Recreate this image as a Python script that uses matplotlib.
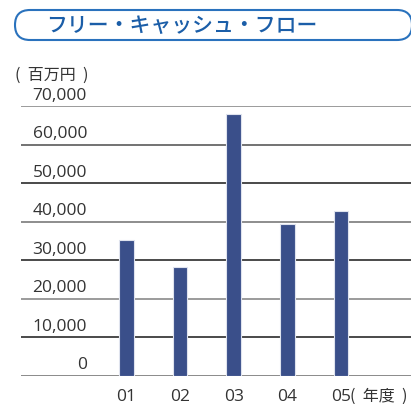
import matplotlib
matplotlib.use("Agg")
import matplotlib.pyplot as plt
from matplotlib.patches import FancyBboxPatch
from matplotlib.transforms import Affine2D

years = ["01", "02", "03", "04", "05"]
values = [35250, 28230, 67900, 39300, 42800]
yticks = [0, 10000, 20000, 30000, 40000, 50000, 60000, 70000]
ytick_labels = ["0", "10,000", "20,000", "30,000", "40,000", "50,000", "60,000", "70,000"]
title = "フリー・キャッシュ・フロー"
unit_label = "(  百万円  )"
year_label = "(  年度  )"

W, H = 411, 404
fig = plt.figure(figsize=(W / 100, H / 100), dpi=100)
fig.patch.set_facecolor("white")

def fx(px):
    return px / W

def fy(py):
    return 1 - py / H

ax_left, ax_right, ax_top, ax_bottom = 21, 411, 106, 375.7
ax = fig.add_axes([fx(ax_left), fy(ax_bottom), fx(ax_right - ax_left), (ax_bottom - ax_top) / H])
ax.set_ylim(0, 70000)
c0, step = 126.3, 53.7
ax.set_xlim((ax_left - c0) / step, (ax_right - c0) / step)
for s in ax.spines.values():
    s.set_visible(False)
ax.set_xticks([])
ax.set_yticks([])
ax.patch.set_alpha(0)

grid_colors = ["#777777", "#2b2b2b", "#8a8a8a", "#2b2b2b", "#7a7a7a", "#2b2b2b", "#5a5a5a", "#8a8a8a"]
for v, c in zip(yticks, grid_colors):
    ax.axhline(v, color=c, lw=1.2, zorder=1)

x = list(range(len(years)))
ax.bar(x, values, width=0.273, color="#3a4f8a", edgecolor="#dfe3ee", linewidth=0.8, zorder=3)

num_font = "Open Sans"
jp_font = ["Noto Sans CJK JP", "DejaVu Sans"]
txt_color = "#333333"

for v, lab in zip(yticks, ytick_labels):
    ypx = ax_bottom - (ax_bottom - ax_top) * v / 70000
    fig.text(fx(87), fy(ypx - 2.5), lab, ha="right", va="bottom", fontsize=12.5,
             family=num_font, color=txt_color)

for xi, lab in zip(x, years):
    fig.text(fx(c0 + xi * step), fy(397), lab, ha="center", va="center", fontsize=12.5,
             family=num_font, color=txt_color)

fig.text(fx(350), fy(396.5), year_label, ha="left", va="center", fontsize=11.5,
         family=jp_font, color=txt_color)
fig.text(fx(15), fy(75), unit_label, ha="left", va="center", fontsize=11.5,
         family=jp_font, color=txt_color)

pix = Affine2D().scale(1 / W, 1 / H) + fig.transFigure
box = FancyBboxPatch((15, H - 40), 412 - 15, 30,
                     boxstyle="round,pad=0,rounding_size=15",
                     transform=pix, facecolor="none",
                     edgecolor="#2a72bd", linewidth=1.5)
fig.patches.append(box)
fig.text(fx(46), fy(25.5), title, ha="left", va="center", fontsize=15,
         family=jp_font, fontweight="medium", color="#1b5ea8")

fig.savefig("out.png", dpi=100)
